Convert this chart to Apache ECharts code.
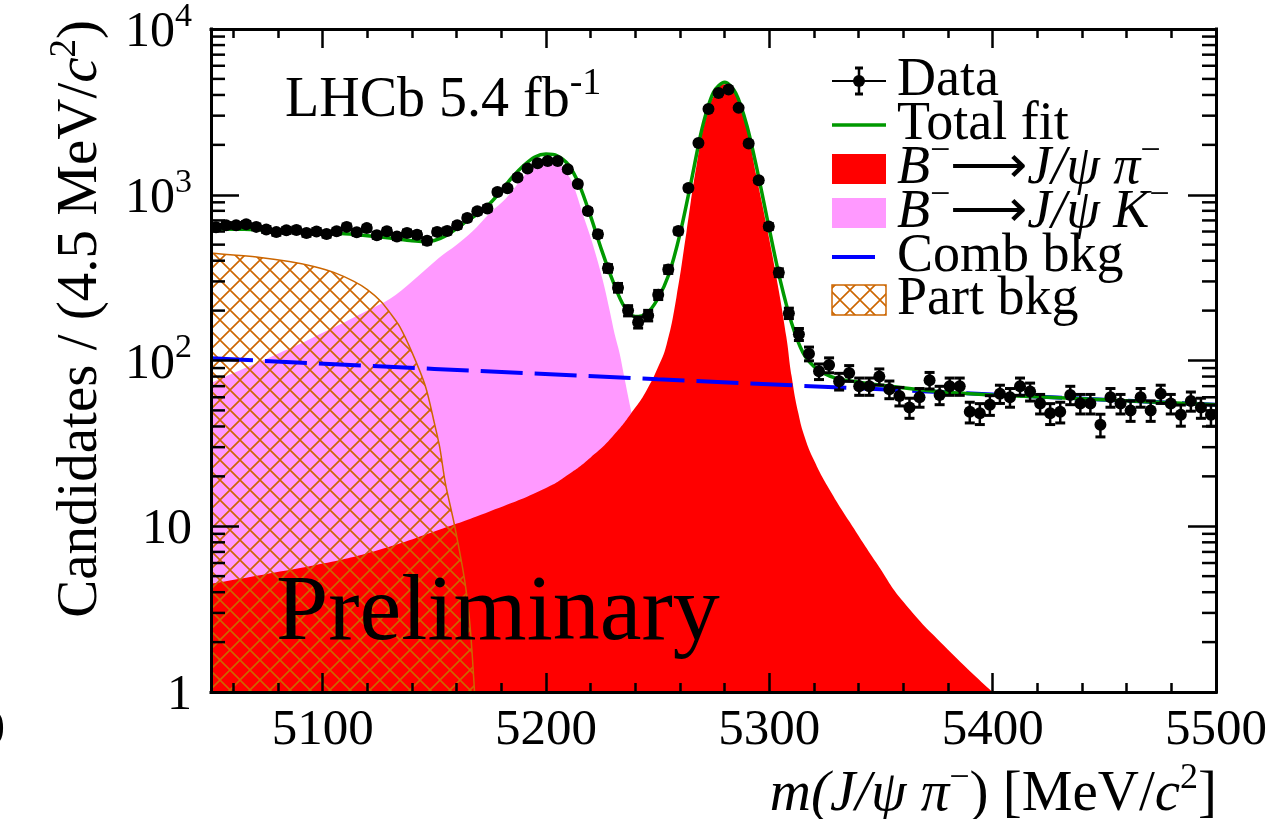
<!DOCTYPE html>
<html>
<head>
<meta charset="utf-8">
<script src="https://cdn.jsdelivr.net/npm/echarts@6/dist/echarts.min.js"></script>
<style>
  html, body { margin: 0; padding: 0; background: #fff; }
  #main { width: 1270px; height: 819px; }
</style>
</head>
<body>
<div id="main"></div>
<script>
// ---- axis range ----
const X_MIN = 5050, X_MAX = 5500;
const Y_MIN = 1, Y_MAX = 10000;

// ---- data histogram: 4.5 MeV bins ----
const binCenters = [
  5052.25, 5056.75, 5061.25, 5065.75, 5070.25, 5074.75, 5079.25, 5083.75, 5088.25, 5092.75,
  5097.25, 5101.75, 5106.25, 5110.75, 5115.25, 5119.75, 5124.25, 5128.75, 5133.25, 5137.75,
  5142.25, 5146.75, 5151.25, 5155.75, 5160.25, 5164.75, 5169.25, 5173.75, 5178.25, 5182.75,
  5187.25, 5191.75, 5196.25, 5200.75, 5205.25, 5209.75, 5214.25, 5218.75, 5223.25, 5227.75,
  5232.25, 5236.75, 5241.25, 5245.75, 5250.25, 5254.75, 5259.25, 5263.75, 5268.25, 5272.75,
  5277.25, 5281.75, 5286.25, 5290.75, 5295.25, 5299.75, 5304.25, 5308.75, 5313.25, 5317.75,
  5322.25, 5326.75, 5331.25, 5335.75, 5340.25, 5344.75, 5349.25, 5353.75, 5358.25, 5362.75,
  5367.25, 5371.75, 5376.25, 5380.75, 5385.25, 5389.75, 5394.25, 5398.75, 5403.25, 5407.75,
  5412.25, 5416.75, 5421.25, 5425.75, 5430.25, 5434.75, 5439.25, 5443.75, 5448.25, 5452.75,
  5457.25, 5461.75, 5466.25, 5470.75, 5475.25, 5479.75, 5484.25, 5488.75, 5493.25, 5497.75
];
const dataCounts = [
  637, 654, 654, 664, 640, 617, 595, 610, 613, 587,
  600, 580, 602, 640, 593, 629, 570, 602, 560, 588,
  573, 527, 597, 605, 654, 725, 794, 827, 1040, 1096,
  1270, 1440, 1550, 1598, 1598, 1425, 1160, 798, 578, 360,
  275, 200, 170, 187, 249, 354, 605, 1099, 2050, 3296,
  4110, 4310, 3343, 2038, 1222, 643, 339, 193, 144, 110,
  86, 94, 75, 84, 70, 70, 80, 67, 61, 52,
  60, 76, 62, 70, 70, 49, 48, 54, 63, 60,
  70, 65, 55, 48, 49, 62, 55, 55, 41, 60,
  55, 50, 60, 50, 63, 55, 47, 57, 52, 47
];

// ---- fit components (mass, candidates) ----
const totalMass = [5050, 5060, 5070, 5080, 5090, 5100, 5110, 5120, 5130, 5140,
  5145, 5150, 5155, 5160, 5165, 5170, 5175, 5180, 5185, 5190,
  5195, 5200, 5205, 5210, 5215, 5220, 5225, 5230, 5235, 5240,
  5245, 5250, 5255, 5260, 5265, 5270, 5275, 5280, 5285, 5290,
  5295, 5300, 5305, 5310, 5315, 5320, 5325, 5330, 5340, 5350,
  5375, 5400, 5450, 5500];
const totalVal = [622, 620, 616, 610, 603, 594, 582, 566, 548, 528,
  522, 530, 565, 625, 700, 775, 890, 1060, 1280, 1500,
  1690, 1760, 1720, 1520, 1140, 740, 460, 300, 212, 184,
  192, 235, 330, 580, 1200, 2550, 4150, 4770, 4100, 2600,
  1320, 620, 300, 168, 112, 92, 83, 78, 74, 71,
  65, 62, 58, 54];

const piMass = [5050, 5075, 5100, 5125, 5150, 5175, 5200, 5210, 5220, 5230,
  5240, 5245, 5250, 5254, 5258.4, 5262.9, 5267.4, 5271.9, 5276.8, 5280,
  5285.3, 5289.8, 5294.2, 5298.7, 5303.2, 5307.6, 5310, 5313, 5316, 5320,
  5326, 5336, 5348, 5360, 5380, 5400];
const piVal = [4.5, 5.15, 5.95, 7.2, 9.3, 12.3, 17, 20.5, 26, 35,
  52, 66, 90, 125, 241, 597, 1500, 2985, 4330, 4640,
  4090, 2600, 1300, 657, 316, 139, 80, 48, 34, 25,
  17.5, 10.6, 6, 3.5, 1.8, 1.0];

const kMass = [5050, 5060, 5070, 5080, 5090, 5100, 5110, 5120, 5130, 5140,
  5152, 5160, 5167, 5175, 5182, 5191, 5197, 5203, 5206, 5209,
  5212, 5216.6, 5221, 5225.5, 5228.5, 5230.7, 5233, 5235, 5237.4, 5239.5,
  5242, 5246, 5250, 5254];
const kVal = [73, 84, 96, 110, 126, 147, 171, 200, 235, 300,
  416, 500, 600, 780, 949, 1340, 1557, 1606, 1520, 1368,
  1166, 755, 500, 302, 200, 145, 110, 80, 55, 40,
  25, 8, 2, 1];

const combMass = [5050, 5150, 5250, 5350, 5450, 5500];
const combVal = [103, 89, 77, 67, 58, 54];

const partMass = [5050, 5060, 5072, 5085, 5096, 5105, 5114, 5120, 5126, 5130,
  5134.5, 5140, 5146, 5150, 5152.4, 5155, 5159, 5163.6, 5166, 5168];
const partVal = [445, 433, 418, 395, 369, 340, 300, 268, 228, 195,
  160, 112, 70, 42, 30, 18, 10.2, 4.7, 2.5, 1.0];

// ---- ticks ----
const xTickLabels = [5100, 5200, 5300, 5400, 5500];
const yTickLabels = { 1: '{n|1}', 10: '{n|10}', 100: '{n|10}{s|2}', 1000: '{n|10}{s|3}', 10000: '{n|10}{s|4}' };
const yMinorTicks = [2, 3, 4, 5, 6, 7, 8, 9, 20, 30, 40, 50, 60, 70, 80, 90,
  200, 300, 400, 500, 600, 700, 800, 900, 2000, 3000, 4000, 5000, 6000, 7000, 8000, 9000];

// ---- styling ----
const FONT = '"Liberation Serif", "Times New Roman", serif';
const C_PI = '#ff0000', C_K = '#ff99ff', C_TOT = '#009900', C_COMB = '#0000ff', C_PART = '#cc6600';

function richSet(base, sup, lh) {
  return {
    n: { fontFamily: FONT, fontSize: base, color: '#000', lineHeight: lh, verticalAlign: 'bottom' },
    i: { fontFamily: FONT, fontSize: base, fontStyle: 'italic', color: '#000', lineHeight: lh, verticalAlign: 'bottom' },
    s: { fontFamily: FONT, fontSize: sup, color: '#000', lineHeight: sup, verticalAlign: 'top' }
  };
}

// cross-hatch tile for the partially reconstructed background
function hatchTile(size, color, width) {
  const c = document.createElement('canvas');
  c.width = size; c.height = size;
  const g = c.getContext('2d');
  g.strokeStyle = color; g.lineWidth = width;
  g.beginPath();
  for (const o of [-size, 0, size]) {
    g.moveTo(o, 0); g.lineTo(o + size, size);
    g.moveTo(o, size); g.lineTo(o + size, 0);
  }
  g.stroke();
  return c;
}
const hatch = { image: hatchTile(20, C_PART, 1.6), repeat: 'repeat' };

const pair = (ms, vs) => ms.map((m, i) => [m, vs[i]]);

const axisLineStyle = { color: '#000', width: 3, cap: 'square' };
const tickStyle = { color: '#000', width: 2.5 };

function xAxisDef(pos, labels) {
  return {
    type: 'value', min: X_MIN, max: X_MAX, position: pos, z: 10,
    splitLine: { show: false },
    axisLine: { show: true, onZero: false, lineStyle: axisLineStyle },
    axisTick: { show: true, inside: true, length: 19, lineStyle: tickStyle },
    minorTick: { show: true, splitNumber: 5, length: 9, lineStyle: tickStyle },
    axisLabel: labels ? {
      show: true, margin: 13, fontFamily: FONT, fontSize: 51, color: '#000',
      formatter: v => (xTickLabels.indexOf(Math.round(v)) >= 0 ? String(Math.round(v)) : '')
    } : { show: false }
  };
}
function yAxisDef(pos, labels) {
  return {
    type: 'log', logBase: 10, min: Y_MIN, max: Y_MAX, position: pos, z: 10,
    splitLine: { show: false },
    axisLine: { show: true, onZero: false, lineStyle: axisLineStyle },
    axisTick: { show: true, inside: true, length: 28, lineStyle: tickStyle },
    axisLabel: labels ? {
      show: true, margin: 19,
      formatter: v => yTickLabels[Math.round(v)] || '',
      rich: richSet(50, 34, 58)
    } : { show: false }
  };
}

const legendRows = [81, 125, 169, 213, 257, 300];
const LX0 = 832, LX1 = 886, LTX = 897;
const legRich = richSet(54, 36, 62);

const legendGraphics = [
  // Data
  { type: 'line', shape: { x1: LX0, y1: legendRows[0], x2: LX1, y2: legendRows[0] }, style: { stroke: '#000', lineWidth: 2 } },
  { type: 'line', shape: { x1: 859, y1: legendRows[0] - 13, x2: 859, y2: legendRows[0] + 13 }, style: { stroke: '#000', lineWidth: 2.5 } },
  { type: 'line', shape: { x1: 855, y1: legendRows[0] - 13, x2: 863, y2: legendRows[0] - 13 }, style: { stroke: '#000', lineWidth: 3 } },
  { type: 'line', shape: { x1: 855, y1: legendRows[0] + 13, x2: 863, y2: legendRows[0] + 13 }, style: { stroke: '#000', lineWidth: 3 } },
  { type: 'circle', shape: { cx: 859, cy: legendRows[0], r: 6 }, style: { fill: '#000' } },
  // Total fit
  { type: 'line', shape: { x1: LX0, y1: legendRows[1], x2: LX1, y2: legendRows[1] }, style: { stroke: C_TOT, lineWidth: 3.5 } },
  // signal and misidentified K
  { type: 'rect', shape: { x: LX0, y: legendRows[2] - 15, width: LX1 - LX0, height: 30 }, style: { fill: C_PI } },
  { type: 'rect', shape: { x: LX0, y: legendRows[3] - 15, width: LX1 - LX0, height: 30 }, style: { fill: C_K } },
  // combinatorial
  { type: 'line', shape: { x1: LX0, y1: legendRows[4], x2: 875, y2: legendRows[4] }, style: { stroke: C_COMB, lineWidth: 4 } },
  // partially reconstructed
  { type: 'rect', shape: { x: LX0, y: legendRows[5] - 15, width: LX1 - LX0, height: 30 }, style: { fill: hatch, stroke: C_PART, lineWidth: 1.5 } }
];
const legendTexts = [
  '{n|Data}',
  '{n|Total fit}',
  '{i|B}{s|−}{n|⟶}{i|J/ψ π}{s|−}',
  '{i|B}{s|−}{n|⟶}{i|J/ψ K}{s|−}',
  '{n|Comb bkg}',
  '{n|Part bkg}'
].map((t, k) => ({
  type: 'text', x: LTX, y: legendRows[k] - 4,
  style: { text: t, rich: legRich, align: 'left', verticalAlign: 'middle' }
}));

const textGraphics = [
  { type: 'text', x: 285, y: 97,
    style: { text: '{n|LHCb 5.4 fb}{s|-1}', rich: richSet(56, 38, 64), align: 'left', verticalAlign: 'middle' } },
  { type: 'text', x: 276, y: 614,
    style: { text: 'Preliminary', fontFamily: FONT, fontSize: 94, fill: '#000', align: 'left', verticalAlign: 'middle' } },
  { type: 'text', x: 1217, y: 792,
    style: { text: '{i|m(J/ψ π}{s|−}{n|) [MeV/}{i|c}{s|2}{n|]}', rich: richSet(57, 36, 63), align: 'right', verticalAlign: 'middle' } },
  { type: 'text', x: 78, y: 20, rotation: Math.PI / 2,
    style: { text: '{n|Candidates / (4.5 MeV/}{i|c}{s|2}{n|)}', rich: richSet(57, 37, 63), align: 'right', verticalAlign: 'middle' } },
  { type: 'text', x: 5, y: 731,
    style: { text: '0', fontFamily: FONT, fontSize: 51, fill: '#000', align: 'right', verticalAlign: 'middle' } }
];

function tickLine() { return { stroke: '#000', lineWidth: 2.5 }; }

const chart = echarts.init(document.getElementById('main'), null, { renderer: 'canvas' });
chart.setOption({
  animation: false,
  backgroundColor: '#ffffff',
  grid: { left: 211, right: 53, top: 22, bottom: 127 },
  xAxis: [xAxisDef('bottom', true), xAxisDef('top', false)],
  yAxis: [yAxisDef('left', true), yAxisDef('right', false)],
  series: [
    { name: 'B- -> J/psi K-', type: 'line', z: 2, data: pair(kMass, kVal), smooth: 0.35, symbol: 'none',
      lineStyle: { opacity: 0 }, areaStyle: { color: C_K, opacity: 1, origin: 'start' } },
    { name: 'B- -> J/psi pi-', type: 'line', z: 3, data: pair(piMass, piVal), smooth: 0.5, symbol: 'none',
      lineStyle: { opacity: 0 }, areaStyle: { color: C_PI, opacity: 1, origin: 'start' } },
    { name: 'Part bkg', type: 'line', z: 4, data: pair(partMass, partVal), smooth: 0.3, symbol: 'none',
      lineStyle: { color: C_PART, width: 1.5 }, areaStyle: { color: hatch, opacity: 1, origin: 'start' } },
    { name: 'Comb bkg', type: 'line', z: 5, data: pair(combMass, combVal), symbol: 'none',
      lineStyle: { color: C_COMB, width: 4, type: [42, 12] } },
    { name: 'Total fit', type: 'line', z: 6, data: pair(totalMass, totalVal), smooth: 0.3, symbol: 'none',
      lineStyle: { color: C_TOT, width: 3.5 } },
    { name: 'Data errors', type: 'custom', z: 7,
      data: binCenters.map((m, i) => [m, dataCounts[i], Math.sqrt(dataCounts[i])]),
      encode: { x: 0, y: 1 },
      renderItem: (params, api) => {
        const m = api.value(0), v = api.value(1), e = api.value(2);
        const hi = api.coord([m, v + e]);
        const lo = api.coord([m, Math.max(v - e, Y_MIN)]);
        const cap = 5;
        const st = { stroke: '#000', lineWidth: 2.5 };
        return { type: 'group', children: [
          { type: 'line', shape: { x1: hi[0], y1: hi[1], x2: lo[0], y2: lo[1] }, style: st },
          { type: 'line', shape: { x1: hi[0] - cap, y1: hi[1], x2: hi[0] + cap, y2: hi[1] }, style: { stroke: '#000', lineWidth: 3 } },
          { type: 'line', shape: { x1: lo[0] - cap, y1: lo[1], x2: lo[0] + cap, y2: lo[1] }, style: { stroke: '#000', lineWidth: 3 } }
        ] };
      } },
    { name: 'Data', type: 'scatter', z: 8, data: pair(binCenters, dataCounts),
      symbol: 'circle', symbolSize: 12, itemStyle: { color: '#000', opacity: 1 } },
    { name: 'y minor ticks', type: 'custom', z: 11,
      data: yMinorTicks.map(v => [X_MIN, v]),
      encode: { x: 0, y: 1 },
      renderItem: (params, api) => {
        const v = api.value(1);
        const l = api.coord([X_MIN, v]), r = api.coord([X_MAX, v]);
        return { type: 'group', children: [
          { type: 'line', shape: { x1: l[0], y1: l[1], x2: l[0] + 14, y2: l[1] }, style: tickLine() },
          { type: 'line', shape: { x1: r[0] - 14, y1: r[1], x2: r[0], y2: r[1] }, style: tickLine() }
        ] };
      } }
  ],
  graphic: [].concat(legendGraphics, legendTexts, textGraphics).map(g => Object.assign({ z: 20 }, g))
});
</script>
</body>
</html>
